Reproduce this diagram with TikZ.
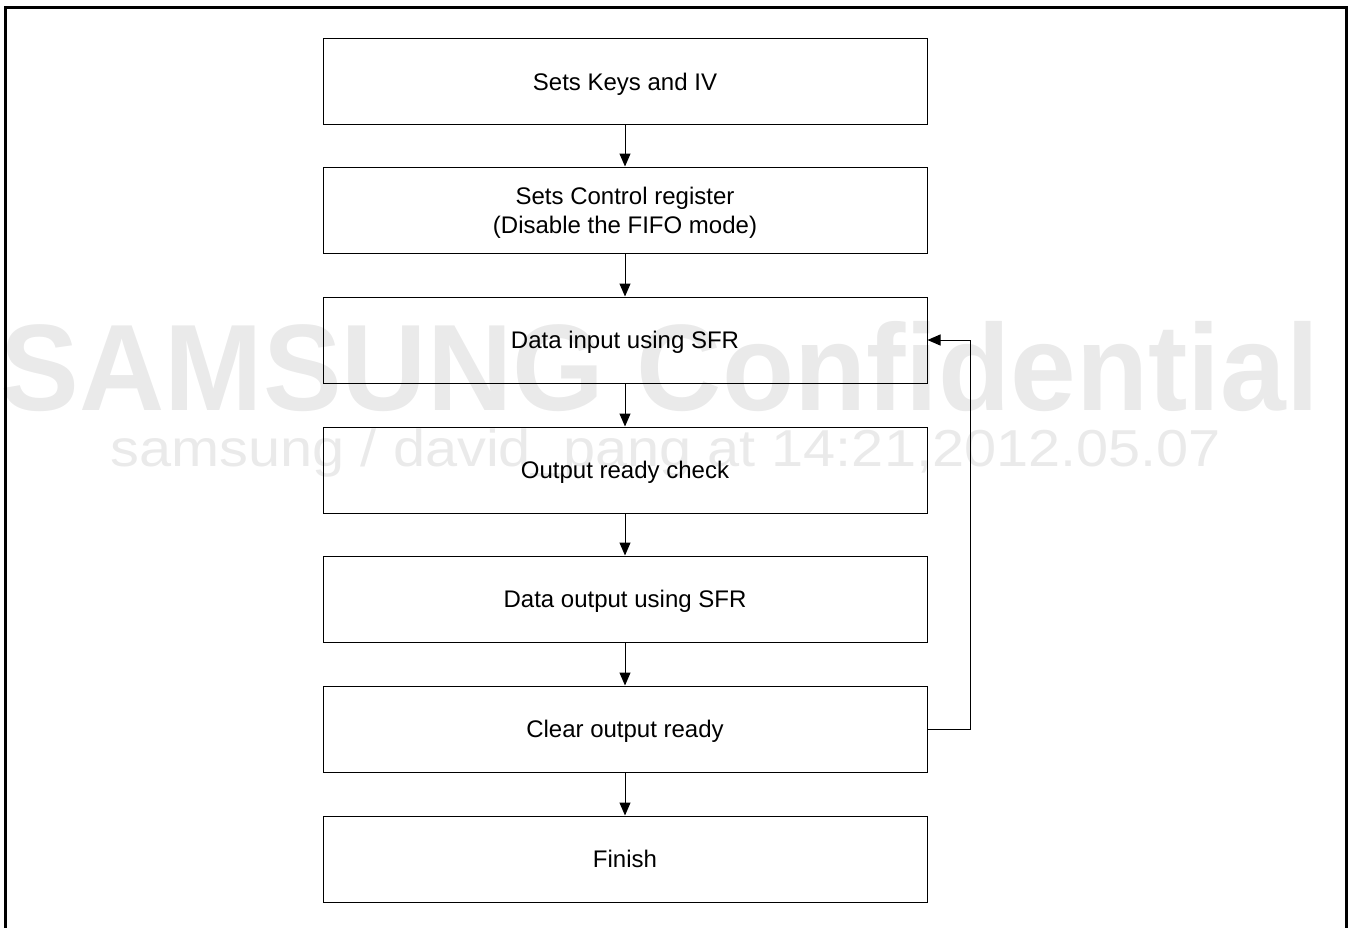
\documentclass[tikz,border=0pt]{standalone}
\usepackage{fontspec}
\setmainfont{Liberation Sans}
\usetikzlibrary{arrows.meta}
\definecolor{wm}{HTML}{EAEAEA}
\tikzset{
  stepbox/.style={draw=black, line width=1pt, minimum width=604pt, minimum height=86pt,
    inner sep=0pt, align=center, font=\fontsize{24}{29}\selectfont,
    text height=17pt, text depth=0pt},
  flow/.style={line width=1pt, -{Triangle[length=13pt,width=11pt]}},
  wmtext/.style={text=wm, inner sep=0pt, anchor=base},
  frame/.style={line width=2.2pt}
}
\begin{document}
\begin{tikzpicture}[x=1pt,y=-1pt]
\useasboundingbox (0,0) rectangle (1352,927);
% watermark
\node[wmtext] (wm1) at (660,410) {\scalebox{0.96}[1]{\fontsize{123}{140}\selectfont\bfseries SAMSUNG Confidential}};
\node[wmtext] (wm2) at (666,466.5) {\scalebox{1.11}[1]{\fontsize{52}{60}\selectfont samsung / david\_pang at 14:21,2012.05.07}};
% frame
\draw[frame] (5.5,940) -- (5.5,7.5) -- (1346.5,7.5) -- (1346.5,940);
% boxes
\node[stepbox] (keys) at (625,81.5) {Sets Keys and IV};
\node[stepbox, text height=47pt] (ctrl) at (625,210) {Sets Control register\\(Disable the FIFO mode)};
\node[stepbox] (din) at (625,340) {Data input using SFR};
\node[stepbox] (ready) at (625,470) {Output ready check};
\node[stepbox] (dout) at (625,599) {Data output using SFR};
\node[stepbox] (clr) at (625,729) {Clear output ready};
\node[stepbox] (fin) at (625,859) {Finish};
% connectors
\draw[flow] (keys) -- (ctrl);
\draw[flow] (ctrl) -- (din);
\draw[flow] (din) -- (ready);
\draw[flow] (ready) -- (dout);
\draw[flow] (dout) -- (clr);
\draw[flow] (clr) -- (fin);
\coordinate (fb) at (970,729);
\draw[flow] (clr.east) -- (fb) |- (din.east);
\end{tikzpicture}
\end{document}
